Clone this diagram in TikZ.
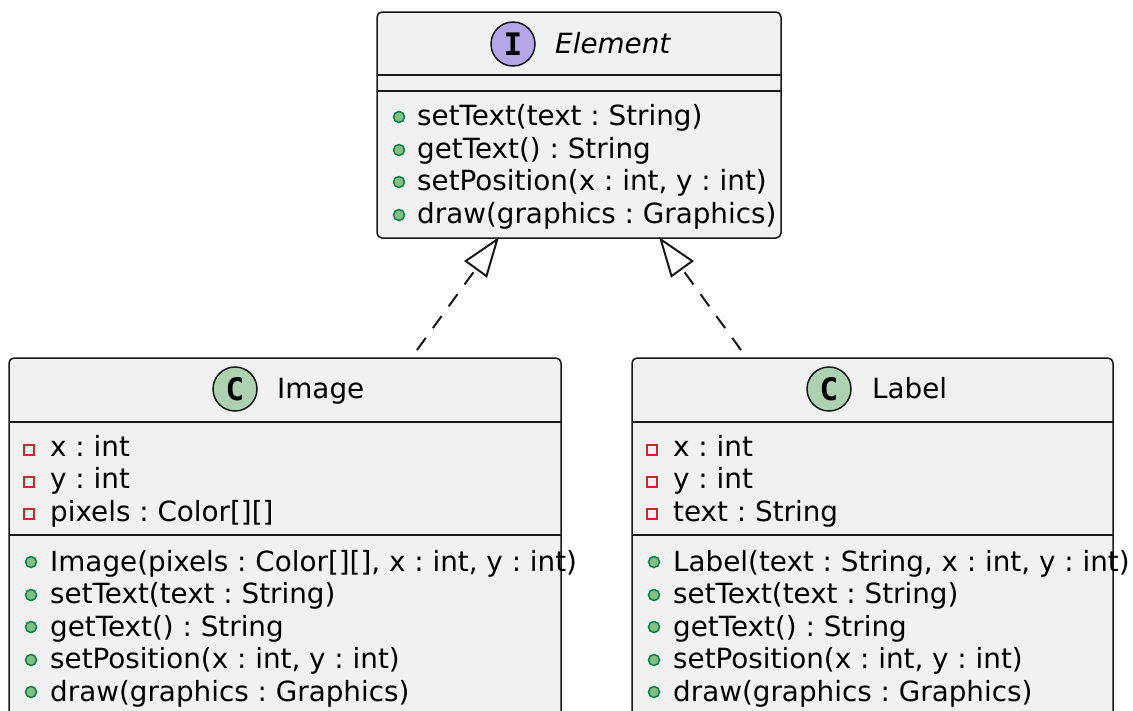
\documentclass[tikz,border=0pt]{standalone}
\usepackage{fontspec}
\setmainfont{DejaVu Sans}
\newfontfamily\spotfont{DejaVu Sans Mono}
\usetikzlibrary{arrows.meta}
\frenchspacing

\definecolor{boxfill}{HTML}{F1F1F1}
\definecolor{boxline}{HTML}{181818}
\definecolor{ifacefill}{HTML}{B4A7E5}
\definecolor{classfill}{HTML}{ADD1B2}
\definecolor{pubfill}{HTML}{84BE84}
\definecolor{publine}{HTML}{038048}
\definecolor{privline}{HTML}{C82930}

\tikzset{
  classbox/.style={draw=boxline, fill=boxfill, line width=1.5pt, rounded corners=5pt, inner sep=0pt},
  spot/.style={circle, draw=boxline, line width=1.5pt, minimum size=44pt, inner sep=0pt,
    font=\spotfont\bfseries\fontsize{31}{31}\selectfont},
  classname/.style={anchor=base west, inner sep=0pt, font=\fontsize{27.8}{32}\selectfont},
  member/.style={anchor=base west, inner sep=0pt, font=\fontsize{27.8}{32}\selectfont},
  pubdot/.style={circle, draw=publine, fill=pubfill, line width=1.5pt, minimum size=11pt, inner sep=0pt},
  privsq/.style={rectangle, draw=privline, line width=1.5pt, minimum width=10pt, minimum height=10pt, inner sep=0pt},
  sepline/.style={draw=boxline, line width=1.3pt},
  realize/.style={draw=boxline, line width=2pt, dash pattern=on 15pt off 12pt,
    -{Triangle[open, length=40pt, width=28pt]}}
}

\begin{document}
\begin{tikzpicture}[x=1pt, y=-1pt]
    \useasboundingbox (0,0) rectangle (1133,710);

    % Interface Element
    \node[classbox, minimum width=404pt, minimum height=226pt] (element) at (579,125) {};
    \node[spot, fill=ifacefill] (elemspot) at (513,44) {I};
    \node[classname, font=\itshape\fontsize{27.8}{32}\selectfont] (elemname) at (555,53) {Element};
    \draw[sepline] (377,75) -- (781,75);
    \draw[sepline] (377,91) -- (781,91);
    \node[pubdot] (elemdot1) at (399,117) {};
    \node[member] (elemop1) at (417,125) {setText(text : String)};
    \node[pubdot] (elemdot2) at (399,150) {};
    \node[member] (elemop2) at (417,158) {getText() : String};
    \node[pubdot] (elemdot3) at (399,182) {};
    \node[member] (elemop3) at (417,190) {setPosition(x : int, y : int)};
    \node[pubdot] (elemdot4) at (399,215) {};
    \node[member] (elemop4) at (417,223) {draw(graphics : Graphics)};

    % Class Image
    \node[classbox, minimum width=552pt, minimum height=382pt] (image) at (285,549) {};
    \node[spot, fill=classfill] (imgspot) at (235,389) {C};
    \node[classname] (imgname) at (277,398) {Image};
    \draw[sepline] (9,422) -- (561,422);
    \node[privsq] (imgsq1) at (29,450) {};
    \node[member] (imgattr1) at (50,456) {x : int};
    \node[privsq] (imgsq2) at (29,482) {};
    \node[member] (imgattr2) at (50,488) {y : int};
    \node[privsq] (imgsq3) at (29,514) {};
    \node[member] (imgattr3) at (50,521) {pixels : Color[][]};
    \draw[sepline] (9,535) -- (561,535);
    \node[pubdot] (imgdot1) at (31,562) {};
    \node[member] (imgop1) at (50,571) {Image(pixels : Color[][], x : int, y : int)};
    \node[pubdot] (imgdot2) at (31,595) {};
    \node[member] (imgop2) at (50,603) {setText(text : String)};
    \node[pubdot] (imgdot3) at (31,627) {};
    \node[member] (imgop3) at (50,636) {getText() : String};
    \node[pubdot] (imgdot4) at (31,660) {};
    \node[member] (imgop4) at (50,668) {setPosition(x : int, y : int)};
    \node[pubdot] (imgdot5) at (31,692) {};
    \node[member] (imgop5) at (50,701) {draw(graphics : Graphics)};

    % Class Label
    \node[classbox, minimum width=481pt, minimum height=382pt] (label) at (872.5,549) {};
    \node[spot, fill=classfill] (lblspot) at (829,389) {C};
    \node[classname] (lblname) at (872,398) {Label};
    \draw[sepline] (632,422) -- (1113,422);
    \node[privsq] (lblsq1) at (652,450) {};
    \node[member] (lblattr1) at (673,456) {x : int};
    \node[privsq] (lblsq2) at (652,482) {};
    \node[member] (lblattr2) at (673,488) {y : int};
    \node[privsq] (lblsq3) at (652,514) {};
    \node[member] (lblattr3) at (673,521) {text : String};
    \draw[sepline] (632,535) -- (1113,535);
    \node[pubdot] (lbldot1) at (654,562) {};
    \node[member] (lblop1) at (673,571) {Label(text : String, x : int, y : int)};
    \node[pubdot] (lbldot2) at (654,595) {};
    \node[member] (lblop2) at (673,603) {setText(text : String)};
    \node[pubdot] (lbldot3) at (654,627) {};
    \node[member] (lblop3) at (673,636) {getText() : String};
    \node[pubdot] (lbldot4) at (654,660) {};
    \node[member] (lblop4) at (673,668) {setPosition(x : int, y : int)};
    \node[pubdot] (lbldot5) at (654,692) {};
    \node[member] (lblop5) at (673,701) {draw(graphics : Graphics)};

    % Realization arrows
    \coordinate (imgend) at (417,350);
    \coordinate (lblend) at (741,350);
    \coordinate (elemleft) at (499,237);
    \coordinate (elemright) at (659,237);
    \draw[realize] (imgend) -- (elemleft);
    \draw[realize] (lblend) -- (elemright);
\end{tikzpicture}
\end{document}
